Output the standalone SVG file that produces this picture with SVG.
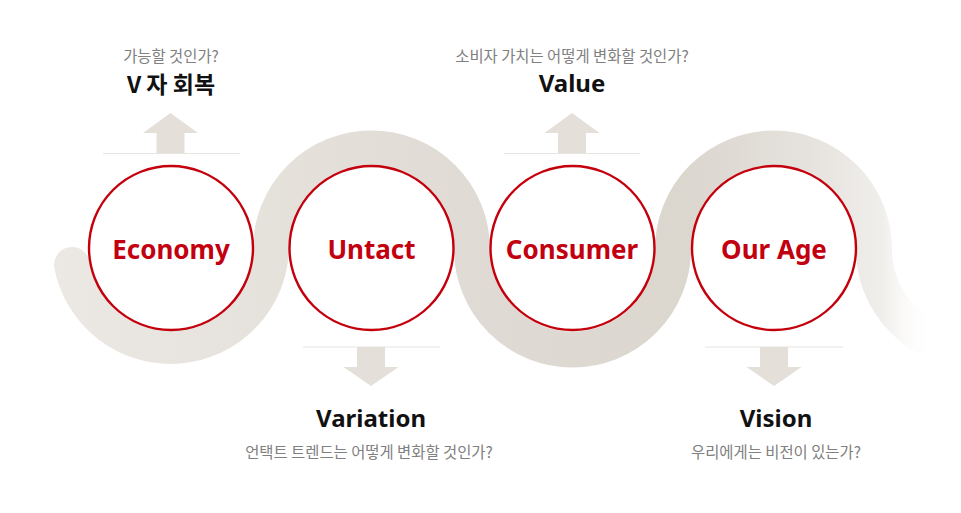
<svg xmlns="http://www.w3.org/2000/svg" width="961" height="513" viewBox="0 0 961 513">
<style>
.ring{fill:#fff;stroke:#c4000d;stroke-width:2.4}
.lbl{font-family:"Noto Sans","Open Sans","Liberation Sans",sans-serif;font-weight:700;font-size:26px;fill:#c20010;text-anchor:middle}
.ttl{font-family:"Noto Sans","Noto Sans CJK KR",sans-serif;font-weight:700;font-size:24px;fill:#111;text-anchor:middle}
.ttlk{font-family:"Noto Sans CJK KR","Noto Sans",sans-serif;font-weight:700;font-size:23px;fill:#111;text-anchor:middle}
.sub{font-family:"Noto Sans CJK KR","Noto Sans",sans-serif;font-size:15.4px;fill:#808080;text-anchor:middle}
.arw{fill:#e4dfd9}
.sep{stroke:#e7e5e2;stroke-width:1.2}
</style>
<defs>
<linearGradient id="band" gradientUnits="userSpaceOnUse" x1="50" y1="0" x2="935" y2="0">
<stop offset="0" stop-color="#ece9e4"/>
<stop offset="0.25" stop-color="#e5e1db"/>
<stop offset="0.5" stop-color="#dfdad3"/>
<stop offset="0.72" stop-color="#dbd6ce"/>
<stop offset="0.86" stop-color="#e6e3de"/>
<stop offset="0.94" stop-color="#f0eeeb"/>
<stop offset="1" stop-color="#ffffff" stop-opacity="0"/>
</linearGradient>
</defs>
<rect width="961" height="513" fill="#fff"/>
<g id="connectors">
<path d="M 72 265 A 100.5 100.5 0 0 0 271 249 A 100.5 100.5 0 0 1 472 249 A 100.5 100.5 0 0 0 673 249 A 100.5 100.5 0 0 1 874 249 A 100.5 100.5 0 0 0 932 340" fill="none" stroke="url(#band)" stroke-width="36" stroke-linecap="round"/>
</g>
<g id="economy">
<line class="sep" x1="103" y1="153.5" x2="240" y2="153.5"/>
<polygon class="arw" points="143,133 170.5,113 198,133 184.5,133 184.5,153 156.5,153 156.5,133"/>
<text class="sub" x="171" y="62">가능할 것인가?</text>
<text class="ttlk" x="171" y="93">V 자 회복</text>
<circle class="ring" cx="171" cy="248" r="82"/>
<text class="lbl" x="171" y="259">Economy</text>
</g>
<g id="untact">
<line class="sep" x1="303" y1="347" x2="440" y2="347"/>
<polygon class="arw" points="357,347 385,347 385,367 398.5,367 371,386 343.5,367 357,367"/>
<circle class="ring" cx="371.5" cy="248" r="82"/>
<text class="lbl" x="371.5" y="259">Untact</text>
<text class="ttl" x="371" y="427">Variation</text>
<text class="sub" x="369" y="458">언택트 트렌드는 어떻게 변화할 것인가?</text>
</g>
<g id="consumer">
<line class="sep" x1="504" y1="153.5" x2="640" y2="153.5"/>
<polygon class="arw" points="544.5,133 572,113 599.5,133 586,133 586,153 558,153 558,133"/>
<text class="sub" x="572" y="62">소비자 가치는 어떻게 변화할 것인가?</text>
<text class="ttl" x="572" y="92">Value</text>
<circle class="ring" cx="572.5" cy="248" r="82"/>
<text class="lbl" x="572" y="259">Consumer</text>
</g>
<g id="ourage">
<line class="sep" x1="705" y1="347" x2="843" y2="347"/>
<polygon class="arw" points="760,347 788,347 788,367 801.5,367 774,386 746.5,367 760,367"/>
<circle class="ring" cx="774" cy="248" r="82"/>
<text class="lbl" x="774" y="259">Our Age</text>
<text class="ttl" x="776" y="427">Vision</text>
<text class="sub" x="776" y="458">우리에게는 비전이 있는가?</text>
</g>
</svg>
